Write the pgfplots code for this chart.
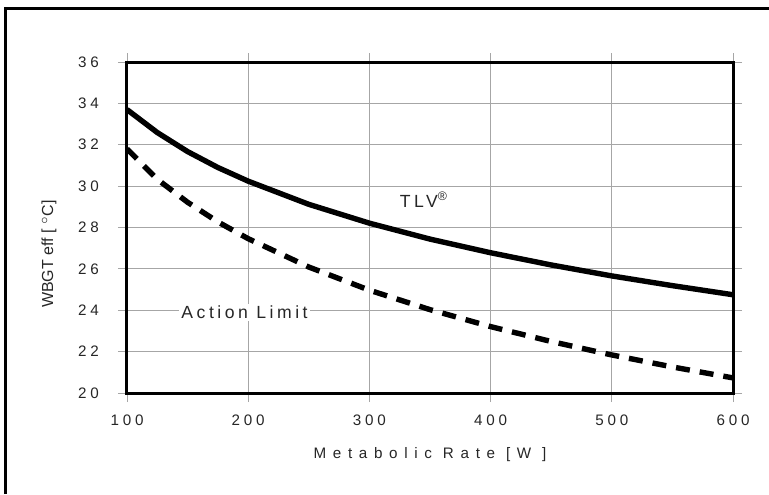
\documentclass[border=0pt]{standalone}
\usepackage{pgfplots}
\pgfplotsset{compat=1.18}
\usepackage{fontspec}
\setmainfont{Liberation Sans}
\newfontfamily\spaced[LetterSpace=25]{Liberation Sans}
\newfontfamily\spacedx[LetterSpace=44]{Liberation Sans}
\newfontfamily\spacedb[LetterSpace=20]{Liberation Sans}
\begin{document}
\begin{tikzpicture}
\path[use as bounding box] (-63.5pt,-50.5pt) rectangle (321pt,196.5pt);
\draw[line width=1.5pt] (-60.5pt,-50.5pt) -- (-60.5pt,192.2pt) -- (321pt,192.2pt);
\begin{axis}[
  at={(0pt,0pt)}, anchor=south west,
  scale only axis, width=303pt, height=165.5pt,
  xmin=100, xmax=600, ymin=20, ymax=36,
  xtick={100,200,...,600}, ytick={20,22,...,36},
  grid=major,
  major grid style={gray!70, line width=0.4pt},
  axis line style={line width=1.5pt},
  tick align=outside, major tick length=4.5pt,
  tick style={gray!70, line width=0.4pt},
  /pgf/number format/assume math mode=true,
  ticklabel style={font=\spaced\fontsize{7.6}{9}\selectfont, text=black!85},
  yticklabel style={xshift=-6pt},
  xticklabel style={yshift=-3pt},
  xlabel={Metabolic Rate [W ]},
  xlabel style={font=\spacedx\fontsize{7.6}{9}\selectfont, text=black!85, yshift=-4pt},
  ylabel={WBGT eff [ $^{\circ}$C]},
  ylabel style={at={(ticklabel cs:0.42)}, font=\fontsize{8}{9}\selectfont, text=black!85, yshift=4pt},
]
\addplot[black, line width=2.7pt] coordinates {
(100,33.70) (125,32.59) (150,31.67) (175,30.90) (200,30.24) (250,29.12)
(300,28.21) (350,27.44) (400,26.78) (450,26.19) (500,25.66) (550,25.19) (600,24.75)};
\addplot[black, line width=2.7pt, dash pattern=on 7pt off 5pt] coordinates {
(100,31.80) (125,30.33) (150,29.22) (175,28.27) (200,27.46) (250,26.09)
(300,24.97) (350,24.03) (400,23.21) (450,22.49) (500,21.84) (550,21.26) (600,20.73)};
\node[fill=white, inner sep=1pt, font=\spacedb\fontsize{8.8}{9}\selectfont, text=black!85] at (axis cs:345,29.35) {TLV\textsuperscript{\textregistered}};
\node[fill=white, inner sep=1pt, font=\spacedb\fontsize{8.8}{9}\selectfont, text=black!85] at (axis cs:197,23.9) {Action Limit};
\end{axis}
\end{tikzpicture}
\end{document}
